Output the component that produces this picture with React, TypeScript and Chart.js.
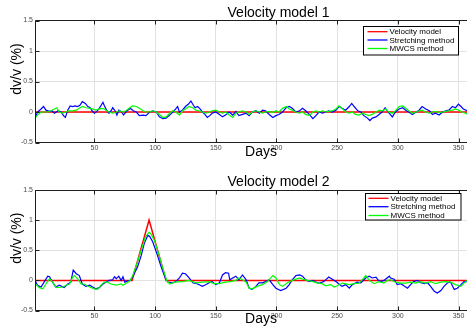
import React, { useEffect, useRef } from "react";
import { Chart, registerables } from "chart.js";

Chart.register(...registerables);

type Pt = [number, number];

// Axis ranges and ticks (days on x, dv/v in % on y)
const dayRange: Pt = [1, 357];
const dayTicks = [50, 100, 150, 200, 250, 300, 350];
const dvvRange: Pt = [-0.5, 1.5];
const dvvTicks = [-0.5, 0, 0.5, 1, 1.5];

const legendLabels = ["Velocity model", "Stretching method", "MWCS method"];
const panelTitles = ["Velocity model 1", "Velocity model 2"];
const xLabel = "Days";
const yLabel = "dv/v (%)";

// Velocity model 1: constant velocity
const model1: Pt[] = [[1, 0], [357, 0]];

const stretching1: Pt[] = [
  [1, -0.11], [3, 0], [6, 0.05], [8, 0.09], [10, 0.03], [13, 0.01], [15, 0.02], [17, -0.02], [20, 0.02], [22.5, 0],
  [24.5, -0.06], [26, -0.09], [28, 0.03], [30, 0.1], [32, 0.09], [34, 0.1], [36, 0.09], [38, 0.11], [40, 0.17], [42.5, 0.14],
  [44.5, 0.09], [46.5, 0.07], [48, 0.02], [50, -0.02], [52, 0.01], [54, 0.06], [57, 0.16], [58, 0.11], [60, 0.03], [62, -0.02],
  [64, 0.03], [65, 0.07], [67, 0.02], [68.5, -0.05], [70, 0.03], [72, 0.01], [74, -0.05], [75.5, -0.01], [77.5, 0.03], [79.5, 0.06],
  [82, 0.02], [84.5, 0], [87, -0.06], [90, -0.05], [92.5, -0.06], [95.5, 0], [98, 0.02], [101, 0], [103.5, -0.08], [106.5, -0.11],
  [109, -0.1], [112, -0.05], [114.5, 0], [117, 0.05], [118.5, 0.09], [120, 0], [122.5, 0.03], [125, 0.09], [127.5, 0.13], [129.5, 0.18],
  [131.5, 0.11], [133, 0.07], [135, 0.09], [137, 0.05], [139, 0], [141, -0.04], [143, -0.09], [145, -0.06], [147, -0.02], [150, 0],
  [153, -0.04], [155.5, -0.08], [158, -0.05], [161, 0], [164, -0.05], [166.5, 0.01], [169, -0.06], [172, -0.04], [175, -0.02], [177.5, -0.06],
  [180, 0], [183, 0.02], [186, -0.02], [188.5, 0.03], [191, 0.02], [194, -0.04], [197, -0.09], [199.5, -0.06], [202, -0.04], [205, 0],
  [208, 0.07], [210.5, 0.09], [213, 0.06], [216, 0], [219, 0.02], [221.5, 0.06], [224, 0.02], [227, -0.04], [230, -0.11], [232.5, -0.06],
  [235, 0], [238, -0.02], [240.5, 0], [243, 0.02], [246, 0], [249, 0.03], [251.5, 0.09], [254, 0.06], [257, 0.03], [260, 0.09],
  [262, 0.14], [264, 0.09], [267, 0.02], [269.5, 0], [272, -0.06], [275, -0.1], [277, -0.14], [279, -0.1], [282, -0.08], [284.5, -0.04],
  [287, 0], [289.5, 0.07], [292, 0], [295.5, -0.08], [298, 0], [301, 0.05], [304, 0.07], [306.5, 0.03], [309, 0], [312, -0.04],
  [315, 0], [317.5, 0.03], [320, 0.09], [323, 0.05], [326, 0.02], [328.5, -0.04], [331, -0.02], [334, -0.05], [337, 0], [339.5, 0.02],
  [342, 0.03], [345, 0.09], [347.5, 0.07], [350, 0.13], [352, 0.09], [354, 0.05], [357, 0.02],
];

const mwcs1: Pt[] = [
  [1, -0.1], [3, -0.05], [6, 0], [9, 0], [11.5, 0], [14, 0.02], [17, 0.05], [19, 0.07], [21, 0], [24, -0.02],
  [26.5, 0], [29, 0.02], [32, 0.02], [35, 0.03], [37.5, 0.06], [40, 0.09], [43, 0.07], [46, 0.06], [48.5, 0.05], [51, 0.03],
  [54, 0.05], [57, 0.06], [59.5, 0.03], [62, 0], [65, -0.02], [68, 0], [70.5, 0.02], [73, 0], [76, 0.02], [79, 0.07],
  [81.5, 0.1], [84.5, 0.09], [87, 0.06], [90, 0.02], [92.5, 0], [95.5, 0], [98, 0.02], [101, 0], [103.5, -0.04], [106.5, -0.09],
  [109, -0.08], [112, -0.02], [114.5, 0.02], [117, 0], [120, -0.05], [122.5, 0.02], [125, 0.05], [128, 0.09], [131, 0.07], [133.5, 0.03],
  [136, 0.02], [139, 0], [142, -0.02], [144.5, 0], [147, 0.02], [150, 0.03], [153, 0], [155.5, -0.02], [158, 0], [161, -0.05],
  [164, -0.09], [166.5, -0.02], [169, 0], [172, 0.02], [175, 0], [177.5, -0.04], [180, 0], [183, 0.02], [186, 0], [188.5, -0.02],
  [191, 0], [194, 0.01], [197, -0.01], [199.5, 0.02], [202, 0], [205, 0.06], [208, 0.09], [210.5, 0.05], [213, 0.03], [216, 0],
  [219, -0.02], [221.5, 0], [224, -0.04], [227, -0.06], [230, 0], [232.5, 0.02], [235, 0], [238, 0.02], [240.5, 0], [243, 0.01],
  [246, 0.02], [249, 0.05], [251.5, 0.1], [254, 0.06], [257, 0], [260, -0.02], [262.5, 0], [265, -0.04], [268, -0.05], [271, -0.02],
  [273.5, -0.04], [276, -0.06], [279, -0.04], [282, 0], [284.5, 0.03], [287, 0.02], [290, 0.05], [292.5, 0], [295.5, -0.02], [298, 0.02],
  [301, 0.09], [304, 0.1], [306.5, 0.06], [309, 0.02], [312, -0.02], [315, 0], [317.5, 0.02], [320, 0.03], [323, 0], [326, -0.02],
  [328.5, 0], [331, 0.01], [334, -0.01], [337, 0], [339.5, 0.01], [342, 0.02], [345, 0.03], [347.5, 0.05], [350, 0.03], [353, 0],
  [357, -0.03],
];

// Velocity model 2: a 1 % triangular velocity change
const model2: Pt[] = [[1, 0], [81, 0], [95, 1], [109, 0], [357, 0]];

const stretching2: Pt[] = [
  [1, 0], [3, -0.08], [6, -0.11], [8.5, -0.03], [11.5, 0.07], [13, 0.06], [15.5, -0.03], [18, -0.11], [21, -0.08], [25, -0.12],
  [28, -0.06], [30.5, -0.03], [32.5, 0.17], [35, 0.11], [37.5, 0.08], [40, -0.06], [43, -0.1], [46, -0.08], [48.5, -0.11], [51, -0.14],
  [54, -0.12], [57, -0.06], [59.5, -0.03], [62, 0], [65, 0.01], [66.5, 0.06], [68, 0.03], [70, 0.07], [72, 0], [73.5, 0.06],
  [75, -0.03], [77.5, -0.01], [79.5, 0], [81.5, 0.06], [85.5, 0.22], [88.5, 0.41], [91, 0.61], [94, 0.75], [95.5, 0.73], [98, 0.64],
  [101.5, 0.44], [105, 0.22], [108.5, 0.03], [110.5, -0.03], [114.5, -0.04], [117, -0.02], [120, 0.04], [122.5, 0.12], [125, 0.11], [128, 0.04],
  [131, -0.04], [135, -0.06], [139, -0.1], [142, -0.07], [144.5, -0.04], [147, -0.02], [150, -0.07], [153, -0.04], [155.5, 0.09], [158, 0.13],
  [160.5, 0.12], [161.5, 0.01], [164, 0.04], [166.5, 0.07], [169, 0.01], [172, 0.09], [175, 0.01], [177.5, -0.13], [180, -0.15], [183, -0.1],
  [185.5, -0.04], [188.5, -0.04], [191, -0.02], [194, 0.01], [197, -0.07], [199.5, -0.13], [203.5, -0.17], [208, -0.13], [210.5, -0.07], [213, 0.01],
  [216, 0.08], [219, 0.09], [221.5, 0.07], [224, 0.01], [227, -0.02], [230, 0], [232.5, -0.03], [235, -0.05], [239, -0.02], [243, 0.055],
  [246, 0.02], [249, -0.02], [251.5, -0.06], [254, -0.1], [257, -0.07], [260, -0.13], [262.5, -0.07], [266.5, -0.03], [269.5, -0.04], [273.5, 0.04],
  [276.5, 0.07], [279, 0.04], [282, 0.055], [284, 0], [286, -0.02], [288.5, 0], [293, 0.07], [294, 0.04], [297, 0.02], [299.5, -0.07],
  [302.5, -0.055], [305, -0.09], [308, -0.13], [310.5, -0.07], [313, -0.02], [316, 0], [319, -0.04], [322, -0.055], [324.5, -0.04], [327, -0.1],
  [330, -0.18], [332.5, -0.21], [335.5, -0.17], [338, -0.1], [341, -0.04], [343.5, -0.03], [346.5, -0.15], [349, -0.13], [352, -0.07], [354.5, -0.02],
  [357, -0.02],
];

const mwcs2: Pt[] = [
  [1, -0.05], [4.5, -0.12], [7.5, -0.14], [10, -0.06], [13, 0.03], [15.5, -0.03], [18.5, -0.12], [24, -0.11], [26.5, -0.08], [29.5, -0.06],
  [32, 0.05], [33.5, 0.08], [36, 0.03], [39, -0.06], [41.5, -0.06], [46, -0.11], [50, -0.14], [52.5, -0.15], [55.5, -0.08], [58, -0.03],
  [61, -0.03], [63.5, -0.06], [68, -0.08], [72, -0.06], [73.5, -0.08], [77.5, -0.03], [79.5, 0], [81.5, 0.08], [85, 0.28], [88.5, 0.5],
  [92, 0.72], [95, 0.8], [96.5, 0.77], [99.5, 0.66], [103, 0.44], [106, 0.22], [109.5, 0], [112, -0.06], [116, -0.03], [122.5, -0.02],
  [128, 0], [131, -0.02], [133.5, -0.04], [139, -0.03], [144.5, -0.02], [148.5, -0.055], [153, -0.055], [158, -0.03], [162, -0.02], [166.5, 0],
  [169, 0.04], [172, 0.01], [175, -0.03], [177.5, -0.13], [180, -0.14], [184, -0.1], [188.5, -0.07], [192.5, -0.02], [197, 0.08], [199.5, 0.04],
  [202.5, -0.07], [205, -0.1], [209, -0.04], [213, 0], [216, 0.02], [219, 0.04], [221.5, 0.02], [225.5, 0], [230, -0.02], [234, -0.045],
  [237.5, -0.055], [240.5, -0.09], [244.5, -0.07], [247.5, -0.11], [250, -0.09], [254.5, -0.045], [260, -0.07], [264, -0.055], [268, -0.045], [272, 0.04],
  [273.5, 0.08], [276.5, 0], [280.5, -0.055], [284.5, -0.02], [288.5, -0.045], [291.5, 0], [294, 0.01], [298, -0.03], [302.5, -0.045], [306.5, -0.045],
  [310.5, -0.03], [314.5, -0.045], [318.5, -0.02], [323, -0.045], [327, -0.02], [331, -0.055], [335.5, -0.03], [339.5, -0.02], [343.5, -0.03], [347.5, -0.07],
  [352, -0.1], [354.5, -0.045], [357, 0],
];

const FONT = "'Liberation Sans', Arial, Helvetica, sans-serif";
const SERIES_COLORS = ["#ff0000", "#0000ff", "#00ff00"];
const AXIS_COLOR = "#1e1e1e";
const GRID_COLOR = "#e2e2e2";
const TICK_TEXT = "#4a4a4a";

const W = 467;
const H = 164;

interface Panel {
  title: string;
  model: Pt[];
  stretching: Pt[];
  mwcs: Pt[];
  top: number;
  bottom: number;
  left: number;
  titleX: number;
  titleY: number;
  xLabelX: number;
  xLabelY: number;
  yLabelX: number;
  yLabelY: number;
  legend: { x: number; y: number; w: number; h: number; rows: number[]; line0: number; line1: number; textX: number };
}

const panels: Panel[] = [
  {
    title: panelTitles[0], model: model1, stretching: stretching1, mwcs: mwcs1,
    top: 20.5, bottom: 142.5, left: 35,
    titleX: 278.5, titleY: 16.5, xLabelX: 261, xLabelY: 155.5, yLabelX: 20.5, yLabelY: 69,
    legend: { x: 363.5, y: 26.5, w: 95, h: 28.5, rows: [31.7, 40, 48.5], line0: 367.5, line1: 387.5, textX: 389.5 },
  },
  {
    title: panelTitles[1], model: model2, stretching: stretching2, mwcs: mwcs2,
    top: 26, bottom: 146.5, left: 35,
    titleX: 278.5, titleY: 22.3, xLabelX: 261, xLabelY: 158.8, yLabelX: 20.5, yLabelY: 74.2,
    legend: { x: 365.5, y: 29.5, w: 95.5, h: 26.5, rows: [34.3, 42.7, 51.5], line0: 368.5, line1: 388.5, textX: 390.5 },
  },
];

// Axes box, inward tick marks, legend and labels drawn on top of the plot
const panelDecor = {
  id: "panelDecor",
  afterDraw(chart: any, _args: any, opts: any) {
    const p: Panel = opts.panel;
    if (!p) return;
    const { ctx, chartArea: a, scales } = chart;
    const xs = scales.x;
    const ys = scales.y;
    ctx.save();

    const left = Math.floor(a.left) + 0.5;
    const top = Math.floor(a.top) + 0.5;
    const bottom = Math.floor(a.bottom) + 0.5;
    const right = a.right + 2;

    ctx.strokeStyle = AXIS_COLOR;
    ctx.lineWidth = 1;
    ctx.beginPath();
    for (const v of dayTicks) {
      const px = Math.round(xs.getPixelForValue(v)) + 0.5;
      ctx.moveTo(px, top);
      ctx.lineTo(px, top + 4);
      ctx.moveTo(px, bottom);
      ctx.lineTo(px, bottom - 4);
    }
    for (const v of dvvTicks) {
      const py = Math.round(ys.getPixelForValue(v)) + 0.5;
      ctx.moveTo(left, py);
      ctx.lineTo(left + 4, py);
    }
    ctx.moveTo(right, top);
    ctx.lineTo(left, top);
    ctx.lineTo(left, bottom);
    ctx.lineTo(right, bottom);
    ctx.stroke();

    // legend
    const L = p.legend;
    ctx.fillStyle = "#ffffff";
    ctx.fillRect(L.x, L.y, L.w, L.h);
    ctx.strokeStyle = "#000000";
    ctx.strokeRect(L.x, L.y, L.w, L.h);
    ctx.font = `8px ${FONT}`;
    ctx.textBaseline = "middle";
    ctx.textAlign = "left";
    legendLabels.forEach((label, i) => {
      const y = L.rows[i];
      ctx.strokeStyle = SERIES_COLORS[i];
      ctx.lineWidth = 1.3;
      ctx.beginPath();
      ctx.moveTo(L.line0, y);
      ctx.lineTo(L.line1, y);
      ctx.stroke();
      ctx.fillStyle = "#000000";
      ctx.fillText(label, L.textX, y + 0.5);
    });

    // title and axis labels
    ctx.fillStyle = "#000000";
    ctx.font = `14px ${FONT}`;
    ctx.textAlign = "center";
    ctx.textBaseline = "alphabetic";
    ctx.fillText(p.title, p.titleX, p.titleY);
    ctx.fillText(xLabel, p.xLabelX, p.xLabelY);
    ctx.translate(p.yLabelX, p.yLabelY);
    ctx.rotate(-Math.PI / 2);
    ctx.fillText(yLabel, 0, 0);
    ctx.restore();
  },
};

const toXY = (pts: Pt[]) => pts.map(([x, y]) => ({ x, y }));

function buildChart(canvas: HTMLCanvasElement, p: Panel) {
  return new Chart(canvas, {
    type: "line",
    data: {
      datasets: [
        { label: legendLabels[2], data: toXY(p.mwcs), borderColor: SERIES_COLORS[2], borderWidth: 1.2, order: 0 },
        { label: legendLabels[1], data: toXY(p.stretching), borderColor: SERIES_COLORS[1], borderWidth: 1.2, order: 1 },
        { label: legendLabels[0], data: toXY(p.model), borderColor: SERIES_COLORS[0], borderWidth: 1.5, order: 2 },
      ],
    },
    options: {
      responsive: false,
      animation: false,
      devicePixelRatio: 1,
      events: [],
      elements: { point: { radius: 0 }, line: { tension: 0 } },
      layout: { padding: { top: p.top, left: 0, right: 0, bottom: 0 } },
      plugins: {
        legend: { display: false },
        title: { display: false },
        tooltip: { enabled: false },
        panelDecor: { panel: p },
      } as any,
      scales: {
        x: {
          type: "linear",
          min: dayRange[0],
          max: dayRange[1],
          afterBuildTicks: (s: any) => {
            s.ticks = dayTicks.map((value) => ({ value }));
          },
          afterFit: (s: any) => {
            s.height = H - p.bottom;
          },
          grid: { color: GRID_COLOR, drawTicks: false, lineWidth: 1 },
          border: { display: false },
          ticks: {
            autoSkip: false,
            maxRotation: 0,
            padding: 1,
            color: TICK_TEXT,
            font: { family: FONT, size: 7 },
            callback: (v: any) => String(v),
          },
        },
        y: {
          type: "linear",
          min: dvvRange[0],
          max: dvvRange[1],
          afterBuildTicks: (s: any) => {
            s.ticks = dvvTicks.map((value) => ({ value }));
          },
          afterFit: (s: any) => {
            s.width = p.left;
          },
          grid: { color: GRID_COLOR, drawTicks: false, lineWidth: 1 },
          border: { display: false },
          ticks: {
            autoSkip: false,
            padding: 2,
            color: TICK_TEXT,
            font: { family: FONT, size: 7 },
            callback: (v: any) => String(v),
          },
        },
      },
    } as any,
    plugins: [panelDecor],
  });
}

function PanelChart({ panel, top }: { panel: Panel; top: number }) {
  const ref = useRef<HTMLCanvasElement | null>(null);
  useEffect(() => {
    if (!ref.current) return;
    const chart = buildChart(ref.current, panel);
    return () => chart.destroy();
  }, [panel]);
  return (
    <canvas
      ref={ref}
      width={W}
      height={H}
      style={{ position: "absolute", left: 0, top, width: W, height: H, display: "block" }}
    />
  );
}

export default function App() {
  return (
    <div
      style={{
        position: "fixed",
        left: 0,
        top: 0,
        width: W,
        height: 2 * H,
        background: "#ffffff",
        overflow: "hidden",
      }}
    >
      <PanelChart panel={panels[0]} top={0} />
      <PanelChart panel={panels[1]} top={H} />
    </div>
  );
}
